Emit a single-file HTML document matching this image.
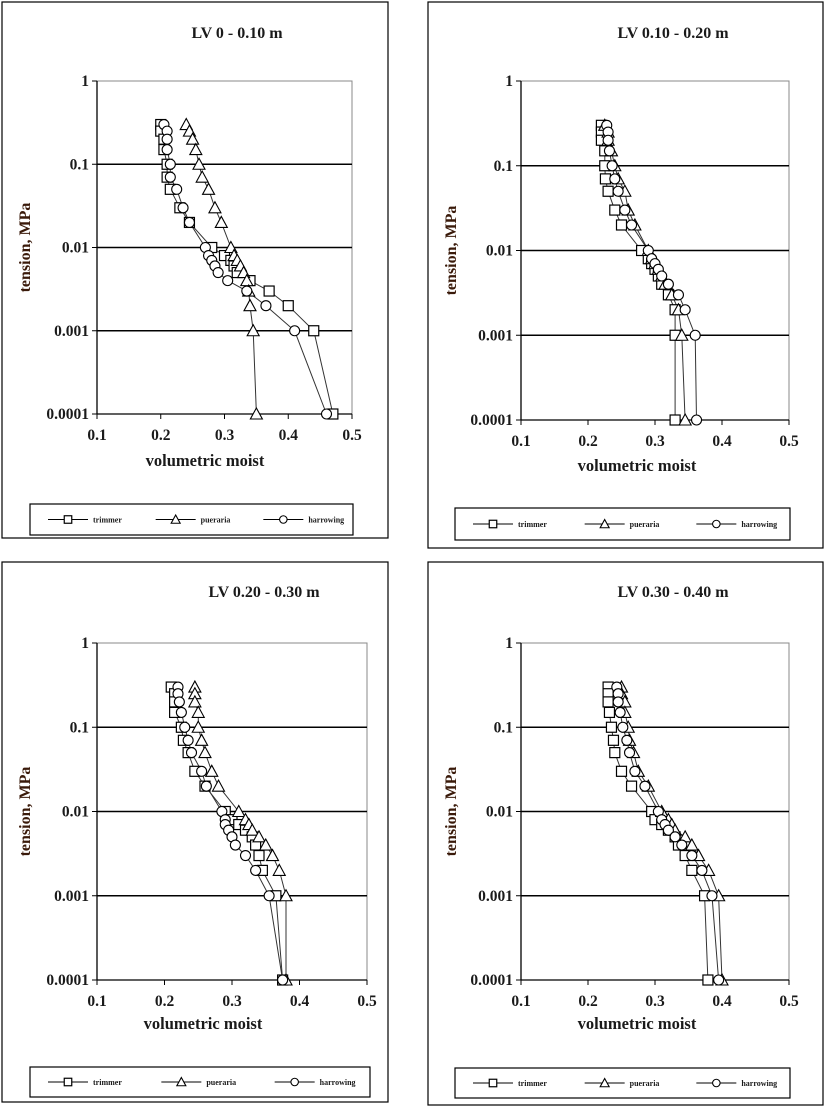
<!DOCTYPE html>
<html><head><meta charset="utf-8"><style>
html,body{margin:0;padding:0;background:#fff}
svg{display:block}
text{font-family:"Liberation Serif",serif;font-weight:bold;fill:#1a1a1a}
</style></head><body>
<svg id="s" width="825" height="1110" xmlns="http://www.w3.org/2000/svg"></svg>
<script>
var T=[0.3,0.25,0.2,0.15,0.1,0.07,0.05,0.03,0.02,0.01,0.008,0.007,0.006,0.005,0.004,0.003,0.002,0.001,0.0001];
var P=[
{f:[2,2,388,538],x0:97,x1:352,y0:81,y1:414,title:"LV 0 - 0.10 m",tx:237,ty:38,xl:205,xly:466,lg:[30,504,353,535],
d:[[0.20,0.20,0.205,0.205,0.21,0.21,0.215,0.23,0.245,0.28,0.30,0.31,0.315,0.32,0.34,0.37,0.40,0.44,0.47],
[0.24,0.245,0.25,0.255,0.26,0.265,0.275,0.285,0.295,0.31,0.315,0.32,0.325,0.33,0.335,0.338,0.34,0.345,0.35],
[0.205,0.21,0.21,0.21,0.215,0.215,0.225,0.235,0.245,0.27,0.275,0.28,0.285,0.29,0.305,0.335,0.365,0.41,0.46]]},
{f:[428,2,823,548],x0:521,x1:789,y0:81,y1:420,title:"LV 0.10 - 0.20 m",tx:673,ty:38,xl:637,xly:471,lg:[455,508,790,540],
d:[[0.22,0.22,0.22,0.225,0.225,0.226,0.23,0.24,0.25,0.28,0.29,0.295,0.30,0.305,0.31,0.32,0.33,0.33,0.33],
[0.225,0.23,0.23,0.235,0.24,0.245,0.255,0.26,0.27,0.29,0.295,0.30,0.305,0.31,0.315,0.325,0.335,0.34,0.345],
[0.228,0.23,0.23,0.232,0.236,0.24,0.245,0.255,0.265,0.29,0.295,0.30,0.305,0.31,0.32,0.335,0.345,0.36,0.362]]},
{f:[2,562,388,1102],x0:97,x1:367,y0:643,y1:980,title:"LV 0.20 - 0.30 m",tx:264,ty:597,xl:203,xly:1029,lg:[30,1067,370,1097],
d:[[0.21,0.215,0.215,0.215,0.225,0.228,0.235,0.245,0.26,0.29,0.30,0.31,0.32,0.33,0.335,0.34,0.345,0.365,0.375],
[0.245,0.245,0.245,0.25,0.25,0.255,0.26,0.27,0.28,0.31,0.32,0.325,0.33,0.34,0.35,0.36,0.37,0.38,0.38],
[0.22,0.22,0.222,0.225,0.23,0.235,0.24,0.255,0.262,0.285,0.29,0.29,0.295,0.30,0.305,0.32,0.335,0.355,0.375]]},
{f:[428,562,823,1105],x0:521,x1:789,y0:643,y1:980,title:"LV 0.30 - 0.40 m",tx:673,ty:597,xl:637,xly:1029,lg:[455,1068,790,1098],
d:[[0.23,0.23,0.23,0.232,0.235,0.238,0.24,0.25,0.265,0.295,0.30,0.31,0.32,0.33,0.335,0.345,0.355,0.374,0.379],
[0.25,0.25,0.255,0.255,0.26,0.262,0.268,0.275,0.29,0.31,0.32,0.325,0.33,0.345,0.355,0.365,0.38,0.395,0.40],
[0.243,0.245,0.245,0.248,0.252,0.258,0.262,0.27,0.285,0.305,0.31,0.315,0.32,0.33,0.34,0.355,0.37,0.385,0.395]]}
];
var h='';
function mk(t,x,y,z){z=z||1;
 if(t==0)return '<rect x="'+(x-5*z)+'" y="'+(y-5*z)+'" width="'+10*z+'" height="'+10*z+'" fill="#fff" stroke="#000" stroke-width="1.2"/>';
 if(t==1)return '<polygon points="'+x+','+(y-6*z)+' '+(x+6*z)+','+(y+5*z)+' '+(x-6*z)+','+(y+5*z)+'" fill="#fff" stroke="#000" stroke-width="1.1"/>';
 return '<circle cx="'+x+'" cy="'+y+'" r="'+5*z+'" fill="#fff" stroke="#000" stroke-width="1.1"/>';
}
P.forEach(function(p){
 var f=p.f;
 h+='<rect x="'+f[0]+'" y="'+f[1]+'" width="'+(f[2]-f[0])+'" height="'+(f[3]-f[1])+'" fill="#fff" stroke="#000" stroke-width="1.2"/>';
 var X=function(v){return p.x0+(v-0.1)/0.4*(p.x1-p.x0)};
 var Y=function(t){return p.y0+(-Math.log10(t))/4*(p.y1-p.y0)};
 h+='<rect x="'+p.x0+'" y="'+p.y0+'" width="'+(p.x1-p.x0)+'" height="'+(p.y1-p.y0)+'" fill="none" stroke="#888" stroke-width="1"/>';
 var labs=["1","0.1","0.01","0.001","0.0001"];
 for(var i=0;i<5;i++){var y=p.y0+i*(p.y1-p.y0)/4;
  if(i>0&&i<4)h+='<line x1="'+p.x0+'" y1="'+y+'" x2="'+p.x1+'" y2="'+y+'" stroke="#000" stroke-width="1.4"/>';
  h+='<line x1="'+(p.x0-5)+'" y1="'+y+'" x2="'+p.x0+'" y2="'+y+'" stroke="#000"/>';
  h+='<text x="'+(p.x0-8)+'" y="'+(y+5)+'" font-size="15.5" text-anchor="end">'+labs[i]+'</text>';}
 for(var i=0;i<5;i++){var x=p.x0+i*(p.x1-p.x0)/4;
  h+='<line x1="'+x+'" y1="'+p.y1+'" x2="'+x+'" y2="'+(p.y1+5)+'" stroke="#000"/>';
  h+='<text x="'+x+'" y="'+(p.y1+26)+'" font-size="15.5" text-anchor="middle">'+(["0.1","0.2","0.3","0.4","0.5"][i])+'</text>';}
 h+='<line x1="'+p.x0+'" y1="'+p.y0+'" x2="'+p.x0+'" y2="'+p.y1+'" stroke="#000" stroke-width="1.3"/>';
 h+='<line x1="'+p.x0+'" y1="'+p.y1+'" x2="'+p.x1+'" y2="'+p.y1+'" stroke="#000" stroke-width="1.3"/>';
 for(var s=0;s<3;s++){var pts=p.d[s].map(function(v,k){return X(v).toFixed(1)+','+Y(T[k]).toFixed(1)}).join(' ');
  h+='<polyline points="'+pts+'" fill="none" stroke="#333" stroke-width="1"/>';}
 for(var s=0;s<3;s++)for(var k=0;k<T.length;k++)h+=mk(s,X(p.d[s][k]),Y(T[k]));
 h+='<text x="'+p.tx+'" y="'+p.ty+'" font-size="16" text-anchor="middle">'+p.title+'</text>';
 h+='<text x="'+p.xl+'" y="'+p.xly+'" font-size="16.5" text-anchor="middle">volumetric moist</text>';
 var cy=(p.y0+p.y1)/2;
 h+='<text x="0" y="0" font-size="16" text-anchor="middle" style="fill:#3a1a0a" transform="translate('+(f[0]+28)+','+cy+') rotate(-90)">tension, MPa</text>';
 var l=p.lg;h+='<rect x="'+l[0]+'" y="'+l[1]+'" width="'+(l[2]-l[0])+'" height="'+(l[3]-l[1])+'" fill="#fff" stroke="#000" stroke-width="1.2"/>';
 var ly=(l[1]+l[3])/2,w=(l[2]-l[0])/3,nm=["trimmer","pueraria","harrowing"];
 for(var s=0;s<3;s++){var bx=l[0]+18+s*w;
  h+='<line x1="'+bx+'" y1="'+ly+'" x2="'+(bx+40)+'" y2="'+ly+'" stroke="#000"/>';
  h+=mk(s,bx+20,ly,0.75);
  h+='<text x="'+(bx+45)+'" y="'+(ly+3)+'" font-size="8">'+nm[s]+'</text>';}
});
document.getElementById('s').innerHTML=h;
</script>
</body></html>
